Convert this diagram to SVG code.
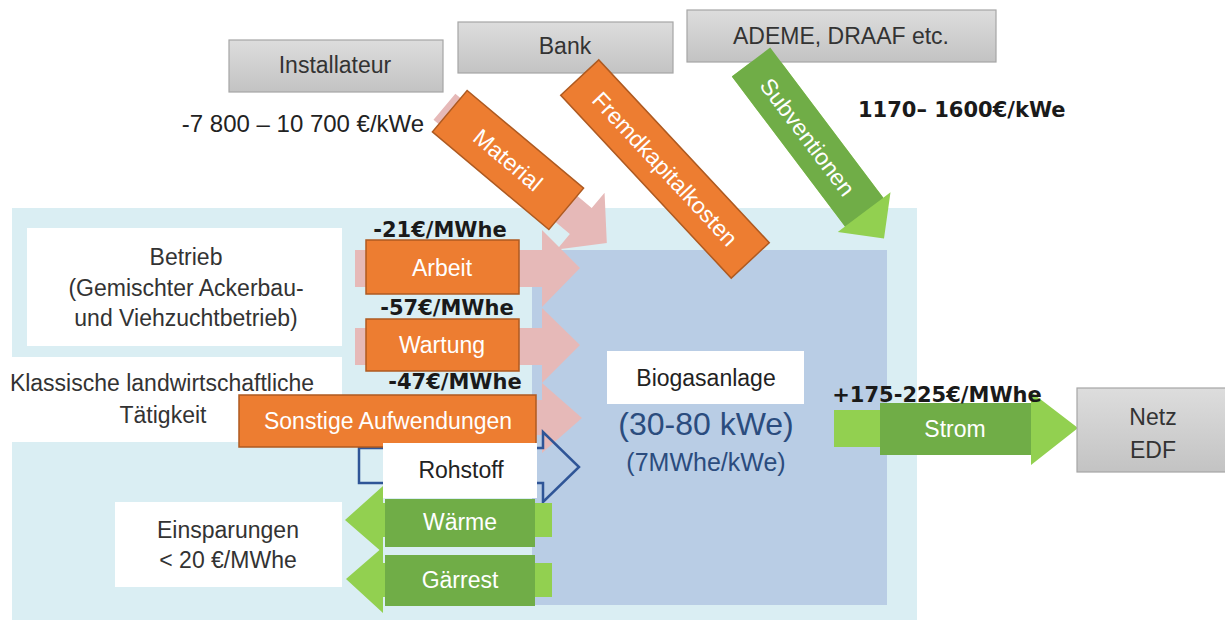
<svg xmlns="http://www.w3.org/2000/svg" width="1225" height="622" viewBox="0 0 1225 622">
  <defs>
    <linearGradient id="grayFill" x1="0" y1="0" x2="0" y2="1">
      <stop offset="0" stop-color="#DDDDDD"/>
      <stop offset="1" stop-color="#C3C3C3"/>
    </linearGradient>
    <style>
      .t { font-family: "Liberation Sans", Arial, sans-serif; font-size: 23px; fill: #333333; text-anchor: middle; dominant-baseline: central; }
      .w { fill: #FFFFFF; }
      .b { font-family: "DejaVu Sans", Verdana, sans-serif; font-weight: bold; font-size: 21px; fill: #1A1A1A; text-anchor: middle; dominant-baseline: central; }
      .gray { fill: url(#grayFill); stroke: #A6A6A6; stroke-width: 1.2; }
      .org { fill: #ED7D31; stroke: #AE5A21; stroke-width: 1.5; }
      .pink { fill: #E6B9B8; }
      .lg { fill: #92D050; }
      .dg { fill: #70AD47; }
      .white { fill: #FFFFFF; }
    </style>
  </defs>

  <!-- farm area and plant area backgrounds -->
  <g id="areas">
    <rect x="12" y="208" width="905" height="412" fill="#DAEEF3"/>
    <rect x="0" y="357" width="342" height="85" class="white"/>
    <rect x="532" y="250" width="355" height="355" fill="#B9CDE5"/>
  </g>

  <g id="betrieb">
    <rect x="27" y="228" width="315" height="118" class="white"/>
    <text class="t" x="186" y="257">Betrieb</text>
    <text class="t" x="186" y="288">(Gemischter Ackerbau-</text>
    <text class="t" x="186" y="318">und Viehzuchtbetrieb)</text>
  </g>

  <g id="klassisch">
    <text class="t" x="162" y="383">Klassische landwirtschaftliche</text>
    <text class="t" x="163" y="415">Tätigkeit</text>
  </g>

  <g id="biogasanlage">
    <rect x="607" y="351" width="197" height="53" class="white"/>
    <text class="t" x="706" y="378" style="fill:#222222">Biogasanlage</text>
    <text class="t" x="706" y="424" style="font-size:32px; fill:#2B4C7E">(30-80 kWe)</text>
    <text class="t" x="706" y="462" style="font-size:25px; fill:#2B4C7E">(7MWhe/kWe)</text>
  </g>

  <!-- flows between the actors -->
  <g id="connectors">
    <polygon class="pink" points="355,250 542,250 542,230 580,268 542,307 542,287 355,287"/>
    <polygon class="pink" points="355,328 542,328 542,308 580,345 542,383 542,365 355,365"/>
    <polygon class="pink" points="355,400 542,400 542,383 582,418 542,453 542,435 355,435"/>
    <path d="M359,448 H543 V432 L579,467 L543,502 V483 H359 Z" fill="none" stroke="#2F5597" stroke-width="2.5"/>
    <g transform="translate(508,160) rotate(40)">
      <polygon class="pink" points="-83,-17 95,-17 95,-37 129,0 95,37 95,17 -83,17"/>
    </g>
    <polygon class="lg" points="552,503 383,503 383,486 345,520 383,553 383,537 552,537"/>
    <polygon class="lg" points="552,563 383,563 383,547 346,579 383,613 383,597 552,597"/>
    <polygon class="lg" points="834,410 1031,410 1031,392 1078,428 1031,465 1031,447 834,447"/>
    <g transform="translate(751,62) rotate(53)">
      <polygon class="lg" points="0,-24 188,-24 188,-33 221,0 188,33 188,24 0,24"/>
    </g>
  </g>

  <g id="arbeit">
    <rect x="366" y="240" width="153" height="54" class="org"/>
    <text class="t w" x="442" y="268">Arbeit</text>
    <text class="b" x="440" y="230">-21€/MWhe</text>
  </g>

  <g id="wartung">
    <rect x="366" y="319" width="153" height="52" class="org"/>
    <text class="t w" x="442" y="345">Wartung</text>
    <text class="b" x="447" y="308">-57€/MWhe</text>
  </g>

  <g id="sonstige">
    <text class="b" x="455" y="382">-47€/MWhe</text>
    <rect x="239" y="395" width="297" height="52" class="org"/>
    <text class="t w" x="388" y="421">Sonstige Aufwendungen</text>
  </g>

  <g id="rohstoff">
    <rect x="383" y="443" width="154" height="55" class="white"/>
    <text class="t" x="461" y="470" style="fill:#222222">Rohstoff</text>
  </g>

  <g id="waerme">
    <rect x="385" y="499" width="150" height="48" class="dg"/>
    <text class="t w" x="460" y="522">Wärme</text>
  </g>

  <g id="gaerrest">
    <rect x="385" y="555" width="150" height="51" class="dg"/>
    <text class="t w" x="460" y="580">Gärrest</text>
  </g>

  <g id="einsparungen">
    <rect x="115" y="502" width="227" height="85" class="white"/>
    <text class="t" x="228" y="530">Einsparungen</text>
    <text class="t" x="228" y="560">&lt; 20 €/MWhe</text>
  </g>

  <g id="strom">
    <rect x="880" y="403" width="151" height="52" class="dg"/>
    <text class="t w" x="955" y="429">Strom</text>
    <text class="b" x="937" y="395">+175-225€/MWhe</text>
  </g>

  <g id="netz">
    <rect x="1077" y="388" width="150" height="84" class="gray"/>
    <text class="t" x="1153" y="417">Netz</text>
    <text class="t" x="1153" y="450">EDF</text>
  </g>

  <g id="installateur">
    <rect x="229" y="40" width="214" height="52" class="gray"/>
    <text class="t" x="335" y="65">Installateur</text>
    <text class="t" x="303" y="123" style="font-size:24px; fill:#222222">-7 800 – 10 700 €/kWe</text>
  </g>

  <g id="material">
    <g transform="translate(508,160) rotate(40)">
      <rect x="-76" y="-27" width="152" height="54" class="org"/>
      <text class="t w" x="0" y="0">Material</text>
    </g>
  </g>

  <g id="bank">
    <rect x="458" y="22" width="215" height="51" class="gray"/>
    <text class="t" x="565" y="46">Bank</text>
  </g>

  <g id="fremdkapital">
    <g transform="translate(665,169) rotate(47)">
      <rect x="-125" y="-26" width="250" height="52" class="org"/>
      <text class="t w" x="0" y="0">Fremdkapitalkosten</text>
    </g>
  </g>

  <g id="ademe">
    <rect x="687" y="10" width="309" height="52" class="gray"/>
    <text class="t" x="841" y="36">ADEME, DRAAF etc.</text>
  </g>

  <g id="subventionen">
    <g transform="translate(751,62) rotate(53)">
      <rect x="0" y="-24" width="188" height="48" class="dg"/>
      <text class="t w" x="94" y="0">Subventionen</text>
    </g>
    <text class="b" x="858" y="110" style="font-size:21px; text-anchor:start">1170– 1600€/kWe</text>
  </g>
</svg>
